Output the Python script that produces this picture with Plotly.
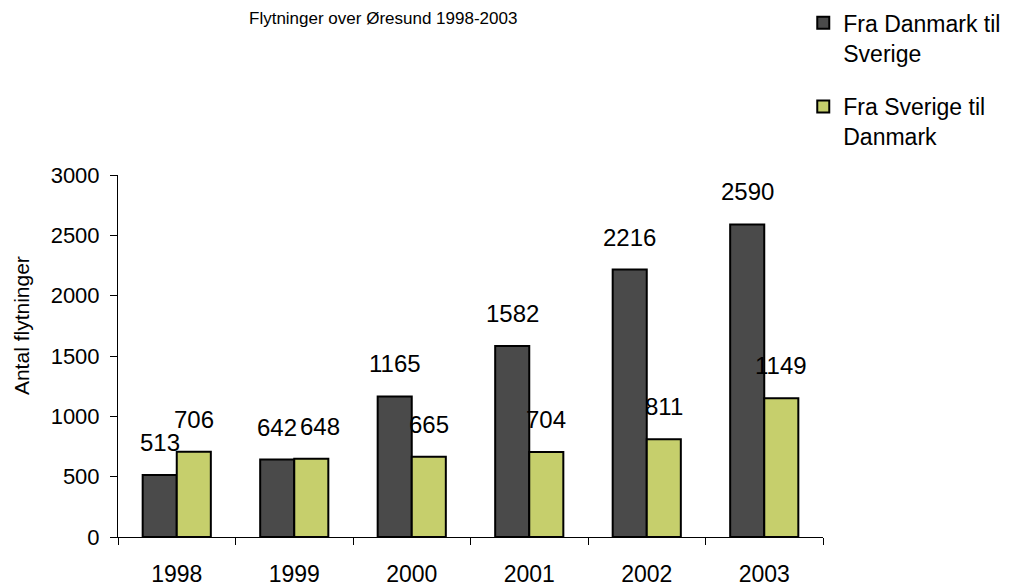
import plotly.graph_objects as go

years = ["1998", "1999", "2000", "2001", "2002", "2003"]
dk_to_se = [513, 642, 1165, 1582, 2216, 2590]
se_to_dk = [706, 648, 665, 704, 811, 1149]
series_names = ["Fra Danmark til<br>Sverige", "Fra Sverige til<br>Danmark"]
colors = ["#4a4a4a", "#c6cf6c"]

FONT = "Liberation Sans Narrow, Arial Narrow, Liberation Sans, Arial, sans-serif"

# label placement style (pixel offsets): group offset per series, and small nudges
series_xshift = [-17, 17]
label_nudge = {(1, "1999"): 9}

fig = go.Figure()
for gi, (vals, name, col) in enumerate(zip([dk_to_se, se_to_dk], series_names, colors)):
    fig.add_trace(go.Bar(
        x=years, y=vals, name=name, legendgroup=f"g{gi}",
        marker=dict(color=col, line=dict(color="black", width=2)),
    ))

annotations = []
for si, vals in enumerate([dk_to_se, se_to_dk]):
    for ci, (yr, v) in enumerate(zip(years, vals)):
        annotations.append(dict(
            x=ci, y=v, xref="x", yref="y", text=str(v), showarrow=False,
            xanchor="center", yanchor="bottom",
            xshift=series_xshift[si] + label_nudge.get((si, yr), 0), yshift=17,
            font=dict(size=24, color="black", family=FONT),
        ))

annotations.append(dict(
    text="Flytninger over Øresund 1998-2003", xref="paper", yref="paper",
    x=0.376, y=1.465, xanchor="center", yanchor="top", showarrow=False,
    font=dict(size=17, color="black", family=FONT),
))

# y-axis title (placed like the reference, above the axis centre)
annotations.append(dict(
    text="Antal flytninger", xref="paper", yref="paper", textangle=-90,
    x=-0.136, y=0.583, xanchor="center", yanchor="middle", showarrow=False,
    font=dict(size=21, color="black", family=FONT),
))

fig.update_layout(
    width=1009, height=580,
    paper_bgcolor="white", plot_bgcolor="white",
    font=dict(family=FONT, color="black"),
    barmode="group", bargap=0.42, bargroupgap=0,
    margin=dict(l=110, r=194, t=167, b=51, autoexpand=False),
    annotations=annotations,
    legend=dict(x=0.972, y=1.48, xanchor="left", yanchor="top", valign="top",
                font=dict(size=23, family=FONT), traceorder="grouped", tracegroupgap=21,
                bgcolor="rgba(0,0,0,0)"),
    showlegend=True,
)
fig.update_xaxes(type="category", range=[-0.5, len(years) - 0.5],
                 showline=True, linecolor="black", linewidth=1, automargin=False,
                 ticks="outside", ticklen=7, tickcolor="black", tickson="boundaries",
                 tickfont=dict(size=23), ticklabelstandoff=16, showgrid=False)
fig.update_yaxes(range=[0, 3000], dtick=500, showline=True, linecolor="black", linewidth=1,
                 automargin=False,
                 ticks="outside", ticklen=7, tickcolor="black", showgrid=False,
                 zeroline=False, tickfont=dict(size=22), ticklabelstandoff=6)

fig.write_html("out.html")
